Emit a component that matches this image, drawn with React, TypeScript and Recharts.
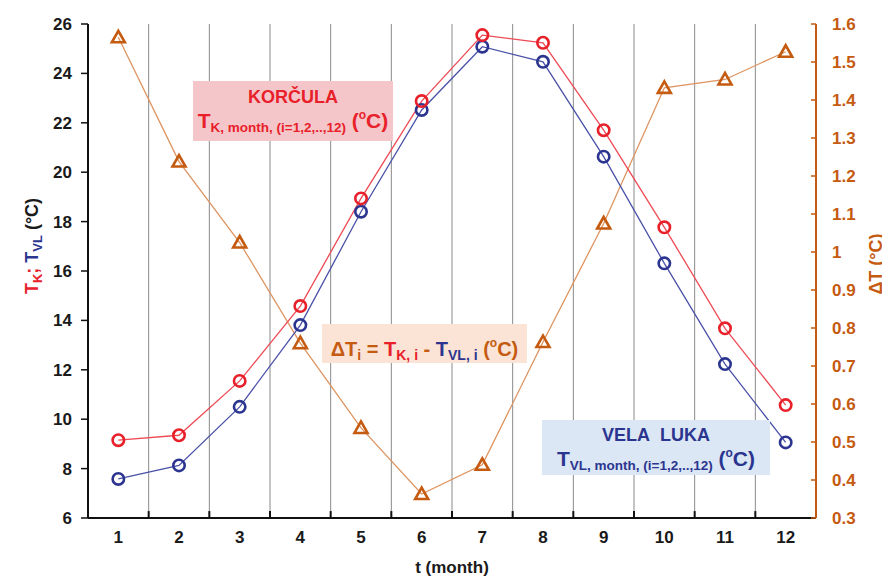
import React from 'react'
import { LineChart, Line, XAxis, YAxis, ReferenceLine } from 'recharts'

const MONTHS = [1, 2, 3, 4, 5, 6, 7, 8, 9, 10, 11, 12]
const KORCULA = [9.15, 9.35, 11.55, 14.58, 18.94, 22.88, 25.55, 25.24, 21.7, 17.77, 13.68, 10.57]
const VELA_LUKA = [7.58, 8.13, 10.5, 13.81, 18.4, 22.52, 25.08, 24.47, 20.63, 16.31, 12.23, 9.06]
const DELTA_T = [1.565, 1.238, 1.025, 0.76, 0.537, 0.363, 0.44, 0.763, 1.075, 1.432, 1.454, 1.527]

const LEFT_TICKS = [6, 8, 10, 12, 14, 16, 18, 20, 22, 24, 26]
const RIGHT_TICKS = [0.3, 0.4, 0.5, 0.6, 0.7, 0.8, 0.9, 1.0, 1.1, 1.2, 1.3, 1.4, 1.5, 1.6]
const BOUNDARIES = [1.5, 2.5, 3.5, 4.5, 5.5, 6.5, 7.5, 8.5, 9.5, 10.5, 11.5]

const RED = '#e8202a'
const RED_LINE = '#ee4a55'
const BLUE = '#2b3590'
const BLUE_LINE = '#4a52a8'
const ORANGE = '#c55a11'
const ORANGE_LINE = '#dd9460'
const FONT = '"Liberation Sans", Arial, sans-serif'

const PLOT_RIGHT = 816

const data = MONTHS.map((m, i) => ({
  month: m,
  k: KORCULA[i],
  vl: VELA_LUKA[i],
  dt: DELTA_T[i],
}))

const Circle = (color: string) => (props: any) => {
  const { cx, cy, index } = props
  if (cx == null || cy == null) return <g key={index} />
  return <circle key={index} cx={cx} cy={cy} r={5.7} fill="none" stroke={color} strokeWidth={2.6} />
}

const Triangle = (props: any) => {
  const { cx, cy, index } = props
  if (cx == null || cy == null) return <g key={index} />
  return (
    <path
      key={index}
      d={`M${cx},${cy - 6.5} L${cx + 6.5},${cy + 5} L${cx - 6.5},${cy + 5} Z`}
      fill="none"
      stroke={ORANGE}
      strokeWidth={2.6}
      strokeLinejoin="miter"
    />
  )
}

const RightTick = (props: any) => {
  const { x, y, payload } = props
  return (
    <g>
      <line x1={PLOT_RIGHT - 5} x2={PLOT_RIGHT} y1={y} y2={y} stroke={ORANGE} strokeWidth={1.5} />
      <text x={x} y={y} dy="0.36em" textAnchor="start" fill={ORANGE} fontSize={17} fontWeight={700} fontFamily={FONT}>
        {String(+Number(payload.value).toFixed(1))}
      </text>
    </g>
  )
}

const sub = (size: number): React.CSSProperties => ({ fontSize: size, verticalAlign: -4 })
const sup = (size: number): React.CSSProperties => ({ fontSize: size, verticalAlign: 9 })

export default function App() {
  return (
    <div style={{ position: 'relative', width: 890, height: 587, margin: -8, background: '#fff', fontFamily: FONT, overflow: 'hidden' }}>
      <div style={{ position: 'absolute', left: 6, top: 5, width: 878, height: 576, border: '1px solid #d4d4d4' }} />

      <div style={{ position: 'absolute', left: 0, top: 0 }}>
        <LineChart width={890} height={587} data={data} margin={{ top: 24, right: 0, left: 0, bottom: 0 }}>
          <XAxis
            dataKey="month"
            type="number"
            domain={[0.5, 12.5]}
            ticks={MONTHS}
            allowDataOverflow
            height={69}
            axisLine={{ stroke: '#111', strokeWidth: 2 }}
            tickLine={false}
            tickMargin={7}
            tick={{ fill: '#1a1a1a', fontSize: 17, fontWeight: 700, fontFamily: FONT }}
          />
          <YAxis
            yAxisId="left"
            domain={[6, 26]}
            ticks={LEFT_TICKS}
            width={88}
            allowDataOverflow
            axisLine={{ stroke: '#111', strokeWidth: 2 }}
            tickLine={{ stroke: '#111', strokeWidth: 1.5 }}
            tickSize={7}
            tickMargin={9}
            tick={{ fill: '#1a1a1a', fontSize: 17, fontWeight: 700, fontFamily: FONT }}
          />
          <YAxis
            yAxisId="right"
            orientation="right"
            domain={[0.3, 1.6]}
            ticks={RIGHT_TICKS}
            width={74}
            allowDataOverflow
            axisLine={{ stroke: ORANGE, strokeWidth: 2 }}
            tickLine={false}
            tickMargin={10}
            tick={<RightTick />}
          />
          {BOUNDARIES.map(b => (
            <ReferenceLine key={b} yAxisId="left" x={b} stroke="#8a8a8a" strokeWidth={1} />
          ))}
          {BOUNDARIES.map(b => (
            <ReferenceLine
              key={'t' + b}
              yAxisId="left"
              segment={[{ x: b, y: 6 }, { x: b, y: 6.28 }]}
              stroke="#111"
              strokeWidth={2}
            />
          ))}
          <Line
            yAxisId="right"
            dataKey="dt"
            stroke={ORANGE_LINE}
            strokeWidth={1.3}
            dot={Triangle}
            activeDot={false}
            isAnimationActive={false}
          />
          <Line
            yAxisId="left"
            dataKey="vl"
            stroke={BLUE_LINE}
            strokeWidth={1.3}
            dot={Circle(BLUE)}
            activeDot={false}
            isAnimationActive={false}
          />
          <Line
            yAxisId="left"
            dataKey="k"
            stroke={RED_LINE}
            strokeWidth={1.3}
            dot={Circle(RED)}
            activeDot={false}
            isAnimationActive={false}
          />
        </LineChart>
      </div>

      {/* axis titles */}
      <div style={{ position: 'absolute', left: 452, top: 568, transform: 'translate(-50%, -50%)', fontSize: 17, fontWeight: 700, color: '#1a1a1a', whiteSpace: 'nowrap' }}>
        t (month)
      </div>
      <div style={{ position: 'absolute', left: 33, top: 246, transform: 'translate(-50%, -50%) rotate(-90deg)', fontSize: 18, fontWeight: 700, whiteSpace: 'nowrap', color: '#1a1a1a' }}>
        <span style={{ color: RED }}>T<span style={sub(13)}>K</span></span>
        <span style={{ color: RED }}>; </span>
        <span style={{ color: BLUE }}>T<span style={sub(13)}>VL</span></span> (°C)
      </div>
      <div style={{ position: 'absolute', left: 876, top: 264, transform: 'translate(-50%, -50%) rotate(-90deg)', fontSize: 18, fontWeight: 700, whiteSpace: 'nowrap', color: ORANGE }}>
        ΔT (°C)
      </div>

      {/* annotation boxes */}
      <div style={{ position: 'absolute', left: 193, top: 81, width: 200, height: 60, background: '#f5c6c9', color: RED, fontWeight: 700, textAlign: 'center', whiteSpace: 'nowrap' }}>
        <div style={{ fontSize: 18, marginTop: 6 }}>KORČULA</div>
        <div style={{ fontSize: 21, marginTop: 0 }}>
          T<span style={sub(13.5)}>K, month, (i=1,2,..,12)</span> (<span style={sup(12)}>o</span>C)
        </div>
      </div>

      <div style={{ position: 'absolute', left: 322, top: 324, width: 205, height: 39, background: '#fbe4d6', color: ORANGE, fontWeight: 700, textAlign: 'center', whiteSpace: 'nowrap', fontSize: 20, lineHeight: '39px' }}>
        ΔT<span style={sub(14)}>i</span> ={' '}
        <span style={{ color: RED }}>T<span style={sub(14)}>K, i</span></span> -{' '}
        <span style={{ color: BLUE }}>T<span style={sub(14)}>VL, i</span></span> (<span style={sup(12)}>o</span>C)
      </div>

      <div style={{ position: 'absolute', left: 542, top: 420, width: 228, height: 55, background: '#dbe7f4', color: BLUE, fontWeight: 700, textAlign: 'center', whiteSpace: 'nowrap' }}>
        <div style={{ fontSize: 18, marginTop: 5 }}>VELA&nbsp;&nbsp;LUKA</div>
        <div style={{ fontSize: 21, marginTop: 0 }}>
          T<span style={sub(13.5)}>VL, month, (i=1,2,..,12)</span> (<span style={sup(12)}>o</span>C)
        </div>
      </div>
    </div>
  )
}
